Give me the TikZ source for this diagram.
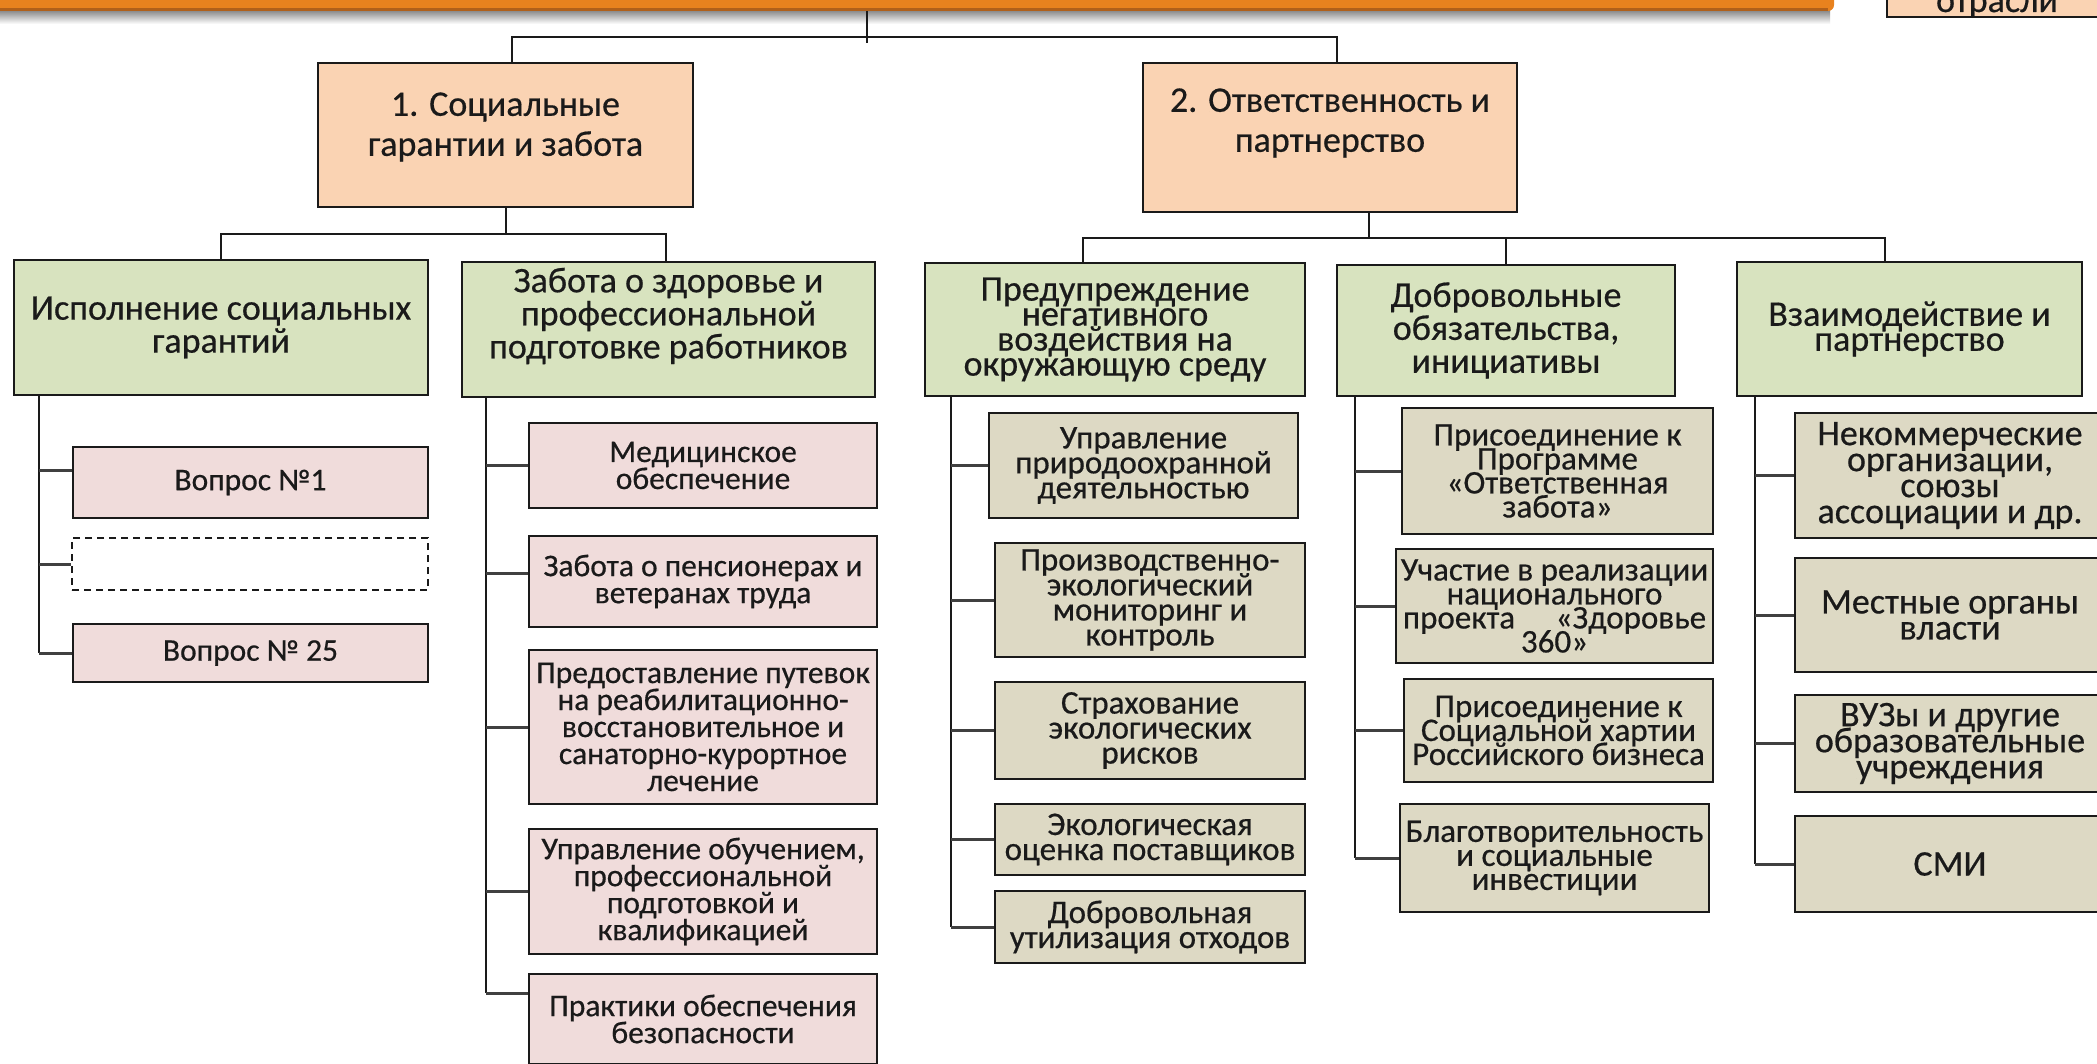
\documentclass[tikz,border=0pt]{standalone}
\usepackage{fontspec}
\newfontfamily\cf[FakeBold=0.5]{Carlito}
\definecolor{peach}{HTML}{FAD3B3}
\definecolor{olive}{HTML}{D8E3BF}
\definecolor{rose}{HTML}{F0DCDB}
\definecolor{khaki}{HTML}{DDD9C4}
\definecolor{barorange}{HTML}{E8821E}
\definecolor{bardark}{HTML}{B0601A}
\definecolor{ink}{HTML}{1A1A1A}
\definecolor{stubgray}{HTML}{404040}
\newcommand\fsz[2]{\cf\fontsize{#1}{#2}\selectfont\lineskiplimit=-60pt\lineskip=0pt}
\tikzset{
  wh/.style 2 args={minimum width=#1, minimum height=#2},
  box/.style={draw=ink, line width=2.2pt, inner sep=0pt, align=center, text=ink},
  peachbox/.style={box, fill=peach},
  greenbox/.style={box, fill=olive},
  pinkbox/.style={box, fill=rose, font=\fsz{31.5}{27}},
  dashbox/.style={box, fill=white, dash pattern=on 7pt off 5pt, line width=2pt},
  envbox/.style={box, fill=khaki, font=\fsz{33}{25}},
  midbox/.style={box, fill=khaki, font=\fsz{33}{24}},
  rightbox/.style={box, fill=khaki, font=\fsz{36}{26}},
  txt/.style={inner sep=0pt, align=center, text=ink},
  fpeach/.style={font=\fsz{36}{40}},
  fgl/.style={font=\fsz{36}{33}},
  fgt/.style={font=\fsz{36}{25}},
  conn/.style={draw=ink, line width=2pt},
  trunk/.style={draw=ink, line width=2pt},
  stub/.style={draw=stubgray, line width=3pt},
}
\begin{document}
\begin{tikzpicture}[x=1pt,y=-1pt]
\useasboundingbox (0,0) rectangle (2097,1064);
\fill[white] (0,0) rectangle (2097,1064);
\begin{scope}
\clip (0,0) rectangle (2097,1064);
% title bar with shadow
\shade[top color=black!55, bottom color=white] (0,8) rectangle (1830,24);
\node[fill=barorange, rounded corners=6pt, inner sep=0pt, wh={1854}{71}] (bar) at (907,-24.5) {};
\draw[bardark, line width=2.5pt] (0,9.5) -- (1828,9.5);
% top right box
\node[peachbox, wh={223}{57}] (otr) at (1998.5,-11.5) {};
\draw[ink, line width=1.2pt] ([xshift=86.5pt]otr.south west) -- ++(0,-22);
\node[txt, font=\fsz{36}{38}, anchor=base] (otrt) at (1997,12) {отрасли};

% level 1
\node[peachbox, wh={375}{144}] (n1) at (505.5,135) {};
\node[txt, fpeach] (n1t) at (505.5,127) {1. Социальные\\гарантии и забота};
\node[peachbox, wh={374}{149}] (n2) at (1330,137.5) {};
\node[txt, fpeach] (n2t) at (1330,123) {2. Ответственность и\\партнерство};

% level 2
\node[greenbox, fgl, wh={414}{135}] (g1) at (221,327.5) {Исполнение социальных\\гарантий};
\node[greenbox, wh={413}{135}] (g2) at (668.5,329.5) {};
\node[txt, fgl] (g2t) at (668.5,316) {Забота о здоровье и\\профессиональной\\подготовке работников};
\node[greenbox, fgt, wh={380}{133}] (g3) at (1115,329.5) {Предупреждение\\негативного\\воздействия на\\окружающую среду};
\node[greenbox, fgl, wh={338}{131}] (g4) at (1506,330.5) {Добровольные\\обязательства,\\инициативы};
\node[greenbox, fgt, wh={345}{134}] (g5) at (1909.5,329) {Взаимодействие и\\партнерство};

% column 1 items
\node[pinkbox, wh={355}{71}] (v1) at (250.5,482.5) {Вопрос №1};
\node[dashbox, wh={356}{52}] (vd) at (250,564) {};
\node[pinkbox, wh={355}{58}] (v25) at (250.5,653) {Вопрос № 25};

% column 2 items
\node[pinkbox, wh={348}{85}] (p1) at (703,465.5) {Медицинское\\обеспечение};
\node[pinkbox, wh={348}{91}] (p2) at (703,581.5) {Забота о пенсионерах и\\ветеранах труда};
\node[pinkbox, wh={348}{154}] (p3) at (703,727) {Предоставление путевок\\на реабилитационно-\\восстановительное и\\санаторно-курортное\\лечение};
\node[pinkbox, wh={348}{125}] (p4) at (703,891.5) {Управление обучением,\\профессиональной\\подготовкой и\\квалификацией};
\node[pinkbox, wh={348}{90}] (p5) at (703,1019) {Практики обеспечения\\безопасности};

% column 3 items
\node[envbox, wh={309}{105}] (e1) at (1143.5,465.5) {Управление\\природоохранной\\деятельностью};
\node[envbox, wh={310}{114}] (e2) at (1150,600) {Производственно-\\экологический\\мониторинг и\\контроль};
\node[envbox, wh={310}{97}] (e3) at (1150,730.5) {Страхование\\экологических\\рисков};
\node[envbox, wh={310}{71}] (e4) at (1150,839.5) {Экологическая\\оценка поставщиков};
\node[envbox, wh={310}{72}] (e5) at (1150,927) {Добровольная\\утилизация отходов};

% column 4 items
\node[midbox, wh={311}{126}] (m1) at (1557.5,471) {Присоединение к\\Программе\\«Ответственная\\забота»};
\node[midbox, wh={317}{114}] (m2) at (1554.5,606) {Участие в реализации\\национального\\проекта \quad«Здоровье\\360»};
\node[midbox, wh={309}{103}] (m3) at (1558.5,730.5) {Присоединение к\\Социальной хартии\\Российского бизнеса};
\node[midbox, wh={309}{108}] (m4) at (1554.5,858) {Благотворительность\\и социальные\\инвестиции};

% column 5 items
\node[rightbox, wh={310}{125}] (r1) at (1950,475.5) {Некоммерческие\\организации,\\союзы\\ассоциации и др.};
\node[rightbox, wh={310}{114}] (r2) at (1950,615) {Местные органы\\власти};
\node[rightbox, wh={310}{97}] (r3) at (1950,743.5) {ВУЗы и другие\\образовательные\\учреждения};
\node[rightbox, wh={310}{96}] (r4) at (1950,864) {СМИ};

% top connectors
\coordinate (bus) at (867,11);
\draw[conn] (bus) -- ++(0,32);
\draw[conn] ([xshift=6.5pt]n1.north) -- ++(0,-25) -| ([xshift=7pt]n2.north);
\draw[conn] (n1.south) -- ++(0,26) -| (g1.north);
\draw[conn] (n1.south) -- ++(0,26) -| ([xshift=-2.5pt]g2.north);
\draw[conn] ([xshift=39pt]n2.south) -- ++(0,25) -| ([xshift=-32pt]g3.north);
\draw[conn] ([xshift=39pt]n2.south) -- ++(0,25) -| (g4.north);
\draw[conn] ([xshift=39pt]n2.south) -- ++(0,25) -| ([xshift=-24.5pt]g5.north);

% trunks and attach points
\coordinate (t1) at ([xshift=26pt]g1.south west);
\coordinate (t2) at ([xshift=25pt]g2.south west);
\coordinate (t3) at ([xshift=27pt]g3.south west);
\coordinate (t4) at ([xshift=19pt]g4.south west);
\coordinate (t5) at ([xshift=19pt]g5.south west);
\coordinate (v1a) at ([yshift=12.5pt]v1.west);
\coordinate (p2a) at ([yshift=8.5pt]p2.west);
\coordinate (p5a) at ([yshift=26pt]p5.west);
\draw[trunk] (t1) -- (t1 |- v25.west);
\draw[trunk] (t2) -- (t2 |- p5a);
\draw[trunk] (t3) -- (t3 |- e5.west);
\draw[trunk] (t4) -- (t4 |- m4.west);
\draw[trunk] (t5) -- (t5 |- r4.west);

% stubs
\draw[stub] (t1 |- v1a) -- (v1a);
\draw[stub] (t1 |- vd.west) -- (vd.west);
\draw[stub] (t1 |- v25.west) -- (v25.west);
\draw[stub] (t2 |- p1.west) -- (p1.west);
\draw[stub] (t2 |- p2a) -- (p2a);
\draw[stub] (t2 |- p3.west) -- (p3.west);
\draw[stub] (t2 |- p4.west) -- (p4.west);
\draw[stub] (t2 |- p5a) -- (p5a);
\draw[stub] (t3 |- e1.west) -- (e1.west);
\draw[stub] (t3 |- e2.west) -- (e2.west);
\draw[stub] (t3 |- e3.west) -- (e3.west);
\draw[stub] (t3 |- e4.west) -- (e4.west);
\draw[stub] (t3 |- e5.west) -- (e5.west);
\draw[stub] (t4 |- m1.west) -- (m1.west);
\draw[stub] (t4 |- m2.west) -- (m2.west);
\draw[stub] (t4 |- m3.west) -- (m3.west);
\draw[stub] (t4 |- m4.west) -- (m4.west);
\draw[stub] (t5 |- r1.west) -- (r1.west);
\draw[stub] (t5 |- r2.west) -- (r2.west);
\draw[stub] (t5 |- r3.west) -- (r3.west);
\draw[stub] (t5 |- r4.west) -- (r4.west);
\end{scope}
\end{tikzpicture}
\end{document}
